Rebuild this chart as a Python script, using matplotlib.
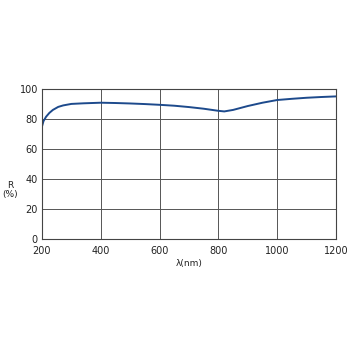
import matplotlib
matplotlib.use("Agg")
import matplotlib.pyplot as plt

wavelength = [200, 205, 214, 225, 237, 255, 272, 300, 341, 400, 450, 500, 550, 600, 650, 700, 750, 800, 820, 850, 900, 950, 1000, 1050, 1100, 1150, 1200]
reflectance = [75, 78.5, 81.5, 84, 86, 88, 89, 90, 90.4, 90.8, 90.6, 90.3, 89.9, 89.4, 88.8, 87.9, 86.8, 85.4, 85.0, 86.0, 88.6, 90.8, 92.6, 93.4, 94.1, 94.6, 95.0]

xticks = [200, 400, 600, 800, 1000, 1200]
yticks = [0, 20, 40, 60, 80, 100]

fig = plt.figure(figsize=(3.5, 3.5), dpi=100)
ax = fig.add_axes([0.12, 0.317, 0.84, 0.429])
ax.plot(wavelength, reflectance, color="#1d4a8c", lw=1.4)
ax.set_xlim(200, 1200)
ax.set_ylim(0, 100)
ax.set_xticks(xticks)
ax.set_yticks(yticks)
ax.grid(True, color="#555555", lw=0.7)
ax.tick_params(length=0, labelsize=7, colors="#222222")
ax.tick_params(axis="x", pad=5)
ax.tick_params(axis="y", pad=3)
for s in ax.spines.values():
    s.set_color("#444444")
    s.set_linewidth(0.8)
ax.set_xlabel("λ(nm)", fontsize=6.5, color="#222222", labelpad=2)
fig.text(0.03, 0.457, "R\n(%)", fontsize=6.5, color="#222222", ha="center", va="center", linespacing=1.0)
fig.savefig("out.png", dpi=100)
